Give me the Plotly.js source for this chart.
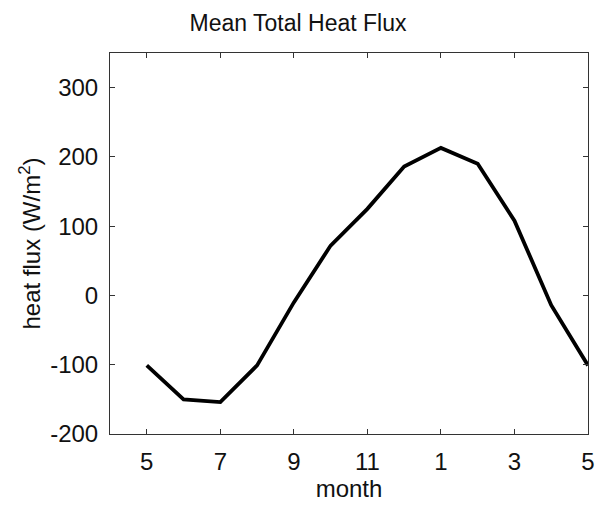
<!DOCTYPE html>
<html>
<head>
<meta charset="utf-8">
<script src="https://cdn.plot.ly/plotly-3.0.1.min.js"></script>
<style>html,body{margin:0;padding:0;background:#fff;}#chart{width:596px;height:505px;}</style>
</head>
<body>
<div id="chart"></div>
<script>
// Month sequence (May to May) and mean total heat flux (W/m^2)
var months = [5, 6, 7, 8, 9, 10, 11, 12, 1, 2, 3, 4, 5];
var heatFlux = [-101, -150, -154, -101, -10, 72, 125, 186, 213, 190, 108, -14, -101];
var xTickIndex = [0, 2, 4, 6, 8, 10, 12];
var xTickLabels = ["5", "7", "9", "11", "1", "3", "5"];
var yTickValues = [-200, -100, 0, 100, 200, 300];
var yTickLabels = ["-200", "-100", "0", "100", "200", "300"];

var xIndex = months.map(function (m, i) { return i; });

var fam = "Liberation Sans, Arial, Helvetica, sans-serif";
var font = {family: fam, size: 24, color: "#111"};

var trace = {
  x: xIndex,
  y: heatFlux,
  type: "scatter",
  mode: "lines",
  line: {color: "#000", width: 3.8},
  hoverinfo: "skip",
  showlegend: false
};

var layout = {
  width: 596,
  height: 505,
  margin: {l: 110, r: 8, t: 53, b: 71},
  paper_bgcolor: "#fff",
  plot_bgcolor: "#fff",
  font: font,
  title: {text: "Mean Total Heat Flux", font: {family: fam, size: 23, color: "#111"}, x: 0.5, xanchor: "center", y: 0.955, yanchor: "middle"},
  xaxis: {
    range: [-1, 12],
    tickmode: "array",
    tickvals: xTickIndex,
    ticktext: xTickLabels,
    ticks: "inside",
    ticklen: 5,
    tickwidth: 1,
    tickcolor: "#333",
    showline: true,
    linecolor: "#333",
    linewidth: 1,
    mirror: "ticks",
    showgrid: false,
    zeroline: false,
    tickfont: font,
    ticklabelstandoff: 6,
    title: {text: "month", font: font, standoff: 4}
  },
  yaxis: {
    range: [-200, 350],
    tickmode: "array",
    tickvals: yTickValues,
    ticktext: yTickLabels,
    ticks: "inside",
    ticklen: 5,
    tickwidth: 1,
    tickcolor: "#333",
    showline: true,
    linecolor: "#333",
    linewidth: 1,
    mirror: "ticks",
    showgrid: false,
    zeroline: false,
    tickfont: font,
    ticklabelstandoff: 6,
    title: {text: "heat flux (W/m<sup>2</sup>)", font: font, standoff: 2}
  }
};

Plotly.newPlot("chart", [trace], layout, {staticPlot: true, displayModeBar: false});
</script>
</body>
</html>
